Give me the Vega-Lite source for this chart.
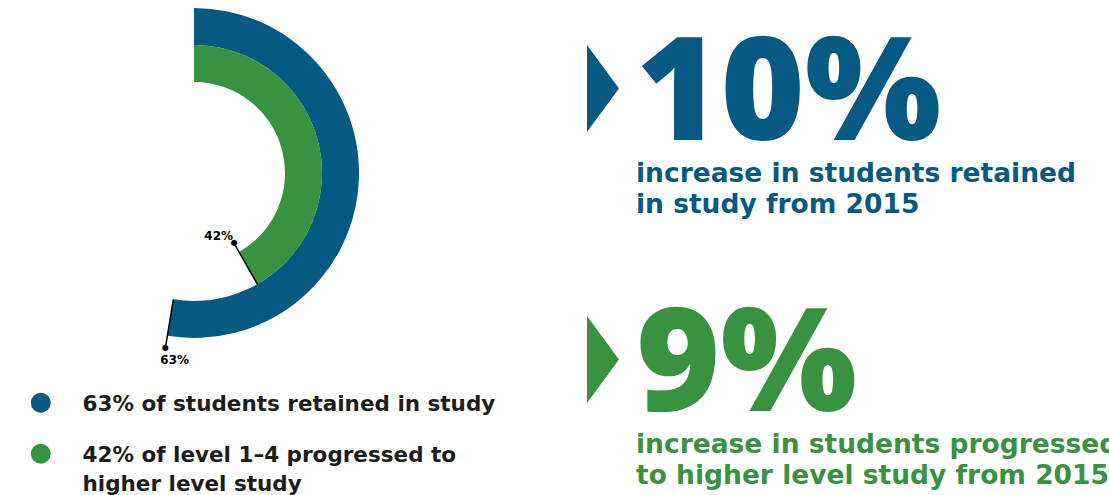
{
  "$schema": "https://vega.github.io/schema/vega-lite/v6.json",
  "padding": 0,
  "background": "white",
  "config": {"view": {"stroke": null}, "font": "DejaVu Sans"},
  "datasets": {
    "stats": [
      {"series": "retained", "label": "63% of students retained in study", "pct": 0.63, "increase": "10%", "note": "increase in students retained\nin study from 2015"},
      {"series": "progressed", "label": "42% of level 1–4 progressed to\nhigher level study", "pct": 0.42, "increase": "9%", "note": "increase in students progressed\nto higher level study from 2015"}
    ]
  },
  "bounds": "flush",
  "spacing": 199,
  "hconcat": [
    {
      "width": 388,
      "height": 346,
      "data": {"name": "stats"},
      "layer": [
        {
          "transform": [{"filter": "datum.series == 'retained'"}],
          "mark": {"type": "arc", "innerRadius": 128, "outerRadius": 165},
          "encoding": {
            "theta": {"field": "pct", "type": "quantitative", "scale": {"domain": [-0.39, 1.55], "zero": false, "nice": false}},
            "theta2": {"datum": -0.39},
            "color": {
              "field": "label", "type": "nominal",
              "scale": {"domain": ["63% of students retained in study", "42% of level 1–4 progressed to\nhigher level study"], "range": ["#045A83", "#37933F"]},
              "legend": {
                "title": null, "orient": "none", "legendX": 30, "legendY": 392, "padding": 0,
                "symbolType": "circle", "symbolSize": 400, "symbolStrokeWidth": 0, "symbolOpacity": 1,
                "labelOffset": 31, "labelLimit": 800, "labelFont": "DejaVu Sans", "labelFontWeight": "bold",
                "labelFontSize": 21.5, "labelColor": "#1d1d1b", "labelBaseline": "alphabetic", "rowPadding": 27,
                "labelExpr": "split(datum.label, '\\n')",
                "encode": {"labels": {"update": {"dy": {"value": 8}, "lineHeight": {"value": 29}}}}
              }
            }
          }
        },
        {
          "transform": [{"filter": "datum.series == 'progressed'"}],
          "mark": {"type": "arc", "innerRadius": 91, "outerRadius": 128},
          "encoding": {
            "theta": {"field": "pct", "type": "quantitative"},
            "theta2": {"datum": -0.39},
            "color": {"field": "label", "type": "nominal"}
          }
        },
        {
          "transform": [{"filter": "datum.series == 'retained'"}],
          "mark": {"type": "arc", "innerRadius": 128, "outerRadius": 177, "stroke": "#000000", "strokeWidth": 1.5, "fill": "#000000"},
          "encoding": {"theta": {"field": "pct", "type": "quantitative"}, "theta2": {"field": "pct"}}
        },
        {
          "transform": [{"filter": "datum.series == 'progressed'"}],
          "mark": {"type": "arc", "innerRadius": 81, "outerRadius": 128, "stroke": "#000000", "strokeWidth": 1.5, "fill": "#000000"},
          "encoding": {"theta": {"field": "pct", "type": "quantitative"}, "theta2": {"field": "pct"}}
        },
        {
          "transform": [{"filter": "datum.series == 'retained'"}],
          "mark": {"type": "text", "text": "●", "radius": 177, "fontSize": 8, "color": "#000000", "align": "center", "baseline": "middle"},
          "encoding": {"theta": {"field": "pct", "type": "quantitative"}}
        },
        {
          "transform": [{"filter": "datum.series == 'progressed'"}],
          "mark": {"type": "text", "text": "●", "radius": 81, "fontSize": 8, "color": "#000000", "align": "center", "baseline": "middle"},
          "encoding": {"theta": {"field": "pct", "type": "quantitative"}}
        },
        {
          "transform": [{"filter": "datum.series == 'retained'"}],
          "mark": {"type": "text", "radius": 188, "dx": 11, "dy": 1.5, "fontSize": 12, "fontWeight": "bold", "color": "#000000", "align": "center", "baseline": "middle"},
          "encoding": {"theta": {"field": "pct", "type": "quantitative"}, "text": {"field": "pct", "type": "quantitative", "format": ".0%"}}
        },
        {
          "transform": [{"filter": "datum.series == 'progressed'"}],
          "mark": {"type": "text", "radius": 72, "dx": -11, "fontSize": 12, "fontWeight": "bold", "color": "#000000", "align": "center", "baseline": "middle"},
          "encoding": {"theta": {"field": "pct", "type": "quantitative"}, "text": {"field": "pct", "type": "quantitative", "format": ".0%"}}
        }
      ]
    },
    {
      "bounds": "flush",
      "spacing": 17,
      "hconcat": [
        {
          "width": 32,
          "height": 495,
          "data": {"name": "stats"},
          "mark": {"type": "point", "shape": "M-0.368,-1L0.368,0L-0.368,1Z", "filled": true, "opacity": 1, "size": 7569, "strokeWidth": 0},
          "encoding": {
            "y": {"field": "series", "type": "nominal", "scale": {"type": "point", "domain": ["retained", "progressed"], "padding": 0.4133, "align": 0.395, "round": false}, "axis": null},
            "color": {"field": "series", "type": "nominal", "scale": {"domain": ["retained", "progressed"], "range": ["#045A83", "#37933F"]}, "legend": null}
          }
        },
        {
          "width": 473,
          "height": 495,
          "data": {"name": "stats"},
          "encoding": {
            "x": {"datum": 0, "type": "quantitative", "scale": {"domain": [0, 1]}, "axis": null},
            "y": {"field": "series", "type": "nominal", "scale": {"type": "point", "domain": ["retained", "progressed"], "padding": 0.4133, "align": 0.395, "round": false}, "axis": null},
            "color": {"field": "series", "type": "nominal", "scale": {"domain": ["retained", "progressed"], "range": ["#045A83", "#37933F"]}, "legend": null}
          },
          "layer": [
            {
              "mark": {"type": "text", "font": "Open Sans", "fontWeight": 800, "fontSize": 144, "align": "left", "baseline": "alphabetic", "dy": 51.5},
              "encoding": {"text": {"field": "increase"}}
            },
            {
              "mark": {"type": "text", "font": "DejaVu Sans", "fontWeight": "bold", "fontSize": 26.5, "lineHeight": 31, "lineBreak": "\n", "align": "left", "baseline": "alphabetic", "dy": 93.5},
              "encoding": {"text": {"field": "note"}}
            }
          ]
        }
      ]
    }
  ]
}
